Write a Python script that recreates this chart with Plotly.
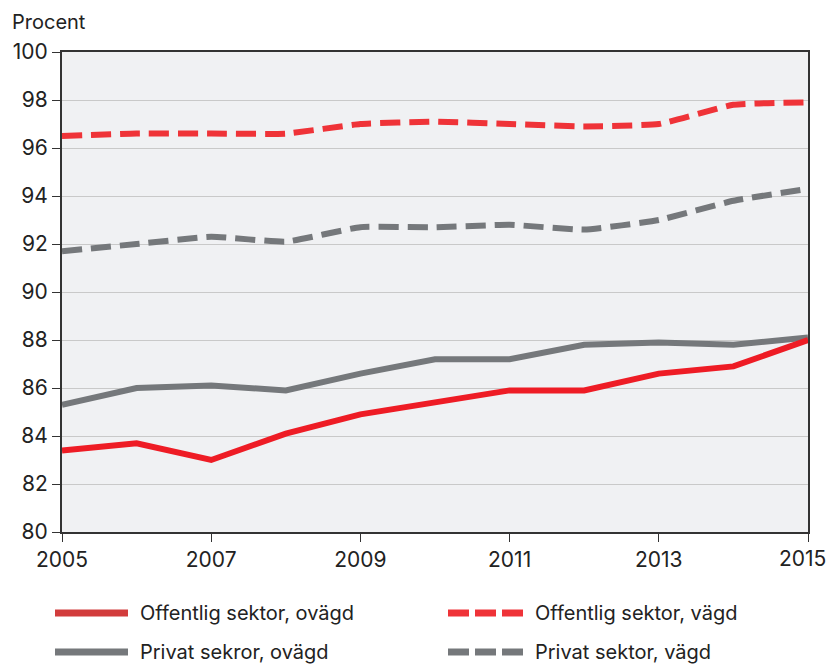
import plotly.graph_objects as go

years = list(range(2005, 2016))
off_ovagd = [83.4, 83.7, 83.0, 84.1, 84.9, 85.4, 85.9, 85.9, 86.6, 86.9, 88.0]
priv_ovagd = [85.3, 86.0, 86.1, 85.9, 86.6, 87.2, 87.2, 87.8, 87.9, 87.8, 88.1]
off_vagd = [96.5, 96.6, 96.6, 96.6, 97.0, 97.1, 97.0, 96.9, 97.0, 97.8, 97.9]
priv_vagd = [91.7, 92.0, 92.3, 92.1, 92.7, 92.7, 92.8, 92.6, 93.0, 93.8, 94.3]
y_ticks = list(range(80, 101, 2))
x_ticks = [2005, 2007, 2009, 2011, 2013, 2015]
x_ticktext = ["2005", "2007", "2009", "2011", "2013", ""]
last_tick_label = "2015"
labels = ["Offentlig sektor, ovägd", "Offentlig sektor, vägd",
          "Privat sekror, ovägd", "Privat sektor, vägd"]

RED = "#ee1c25"
RED_D = "#ef3338"
GRAY = "#75787b"
FONT = "Inter, Roboto, sans-serif"

fig = go.Figure()
fig.add_trace(go.Scatter(x=years, y=off_vagd, mode="lines", showlegend=False,
                         line=dict(color=RED_D, width=6, dash="20px,9px", shape="spline", smoothing=0.4)))
fig.add_trace(go.Scatter(x=years, y=priv_vagd, mode="lines", showlegend=False,
                         line=dict(color=GRAY, width=6, dash="20px,9px", shape="spline", smoothing=0.4)))
fig.add_trace(go.Scatter(x=years, y=priv_ovagd, mode="lines", showlegend=False,
                         line=dict(color=GRAY, width=6)))
fig.add_trace(go.Scatter(x=years, y=off_ovagd, mode="lines", showlegend=False,
                         line=dict(color=RED, width=6)))

L, R, T, B = 62, 808, 52, 532
W, H = R - L, B - T
def px(x):
    return (x - L) / W
def py(y):
    return (B - y) / H

shapes = []
annotations = []
legend_items = [
    (labels[0], "#d23c3c", "solid", 55, 128, 613),
    (labels[1], RED_D, "dash", 448, 523, 613),
    (labels[2], GRAY, "solid", 55, 128, 652),
    (labels[3], GRAY, "dash", 448, 523, 652),
]
for text, color, dash, x0, x1, yy in legend_items:
    if dash == "solid":
        shapes.append(dict(type="line", xref="paper", yref="paper",
                           x0=px(x0), x1=px(x1), y0=py(yy), y1=py(yy),
                           line=dict(color=color, width=7)))
    else:
        seg = (x1 - x0 - 2 * 6) / 3
        for i in range(3):
            s0 = x0 + i * (seg + 6)
            shapes.append(dict(type="line", xref="paper", yref="paper",
                               x0=px(s0), x1=px(s0 + seg), y0=py(yy), y1=py(yy),
                               line=dict(color=color, width=7)))
    annotations.append(dict(text=text, xref="paper", yref="paper",
                            x=px(x1 + 10), y=py(yy), xanchor="left", yanchor="middle",
                            showarrow=False, font=dict(family=FONT, size=20, color="#222")))

annotations.append(dict(text="Procent", xref="paper", yref="paper",
                        x=px(10), y=py(22), xanchor="left", yanchor="middle",
                        showarrow=False, font=dict(family=FONT, size=20, color="#222")))
# last x tick label, nudged left so it stays inside the page as in the reference
annotations.append(dict(text=last_tick_label, xref="x", yref="paper",
                        x=x_ticks[-1], y=py(558), xanchor="center", yanchor="middle",
                        xshift=-6, showarrow=False,
                        font=dict(family=FONT, size=21, color="#222")))

fig.update_layout(
    width=829, height=664,
    margin=dict(l=L, r=829 - R, t=T, b=664 - B, autoexpand=False),
    paper_bgcolor="white", plot_bgcolor="#f0f1f3",
    font=dict(family=FONT, size=21, color="#222"),
    shapes=shapes, annotations=annotations,
    xaxis=dict(range=[2005, 2015], tickvals=x_ticks, ticktext=x_ticktext,
               ticks="outside", ticklen=8,
               tickcolor="#333", showgrid=False, showline=True, linecolor="#333",
               linewidth=2, mirror=True, zeroline=False, ticklabeloverflow="allow",
               automargin=False,
               tickfont=dict(family=FONT, size=21, color="#222")),
    yaxis=dict(range=[80, 100], tickvals=y_ticks, ticks="outside", ticklen=8,
               tickcolor="#333", showgrid=True, gridcolor="#c9c9c9", gridwidth=1,
               showline=True, linecolor="#333", linewidth=2, mirror=True,
               zeroline=False, ticklabeloverflow="allow", automargin=False,
               tickfont=dict(family=FONT, size=21, color="#222")),
)
fig.write_html("out.html", config={"displayModeBar": False},
               post_script="document.body.style.margin='0';document.body.style.overflow='hidden';")
